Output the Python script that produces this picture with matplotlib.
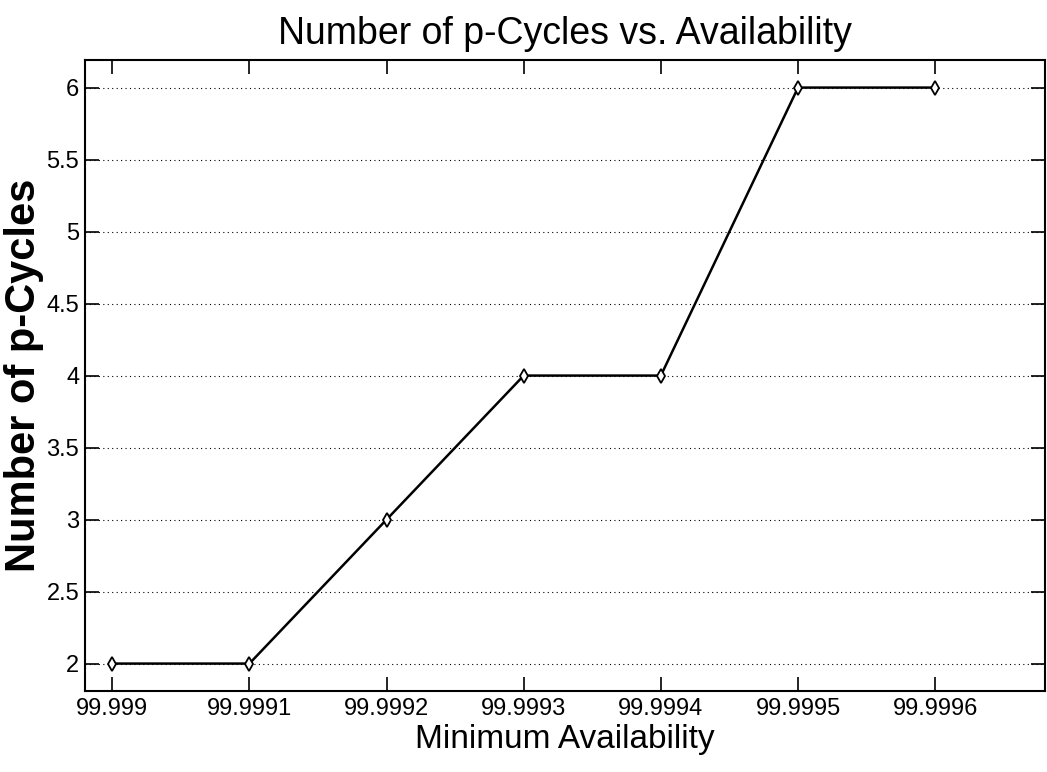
import matplotlib
matplotlib.use("Agg")
import matplotlib.pyplot as plt

# data
availability = [99.999, 99.9991, 99.9992, 99.9993, 99.9994, 99.9995, 99.9996]
num_cycles = [2, 2, 3, 4, 4, 6, 6]
x_ticks = [99.999, 99.9991, 99.9992, 99.9993, 99.9994, 99.9995, 99.9996]
x_tick_labels = ["99.999", "99.9991", "99.9992", "99.9993", "99.9994", "99.9995", "99.9996"]
y_ticks = [2, 2.5, 3, 3.5, 4, 4.5, 5, 5.5, 6]
y_tick_labels = ["2", "2.5", "3", "3.5", "4", "4.5", "5", "5.5", "6"]

fam = ["Liberation Sans", "DejaVu Sans"]

fig = plt.figure(figsize=(10.47, 7.72), dpi=100)
ax = fig.add_axes([0.081, 0.105, 0.917, 0.817])

ax.plot(availability, num_cycles, color="black", linewidth=1.8,
        marker="d", markersize=7, markerfacecolor="white",
        markeredgecolor="black", markeredgewidth=1.3)

ax.set_xlim(99.99898, 99.99968)
ax.set_ylim(1.81, 6.19)
ax.set_xticks(x_ticks)
ax.set_xticklabels(x_tick_labels, family=fam, fontsize=17)
ax.set_yticks(y_ticks)
ax.set_yticklabels(y_tick_labels, family=fam, fontsize=17)

# only horizontal dotted grid lines, as in the original
ax.grid(True, axis="y", linestyle=(0, (1, 3)), color="black", linewidth=0.8)
ax.tick_params(direction="in", length=10, width=1.2, top=True, right=True)
ax.tick_params(axis="x", pad=5)
ax.tick_params(axis="y", pad=4)
for sp in ax.spines.values():
    sp.set_linewidth(1.5)

ax.set_title("Number of p-Cycles vs. Availability", family=fam, fontsize=27, pad=12)
ax.set_xlabel("Minimum Availability", family=fam, fontsize=24, labelpad=3)
ax.set_ylabel("Number of p-Cycles", family=fam, fontsize=30, fontweight="bold")
ax.yaxis.set_label_coords(-0.042, 0.5)

fig.savefig("out.png", dpi=100)
